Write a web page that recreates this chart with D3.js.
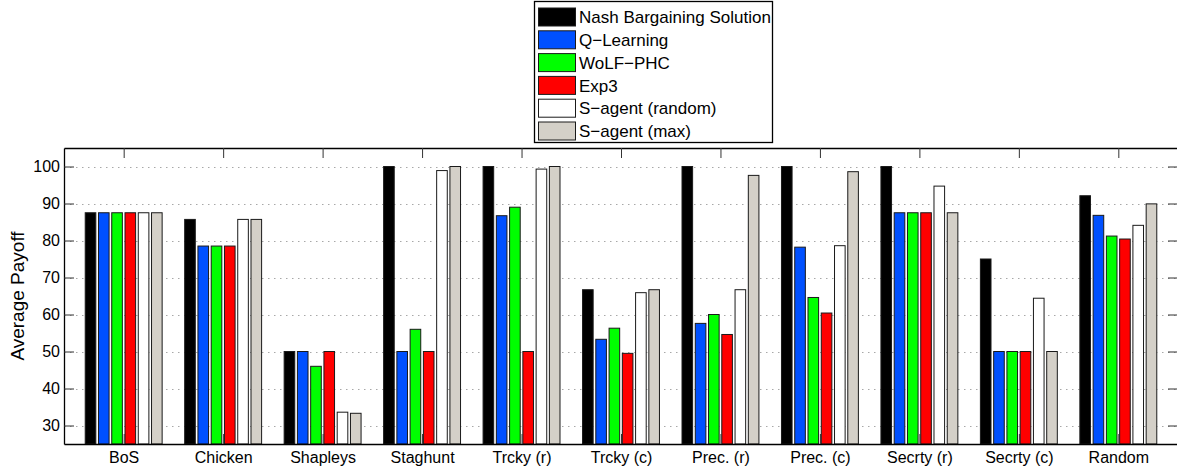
<!DOCTYPE html>
<html>
<head>
<meta charset="utf-8">
<script src="https://cdn.jsdelivr.net/npm/d3@7"></script>
<style>
  html, body { margin: 0; padding: 0; background: #fff; }
  svg { display: block; font-family: "Liberation Sans", Arial, Helvetica, sans-serif; }
</style>
</head>
<body>
<svg id="chart" width="1177" height="470"></svg>
<script>
// Game categories along the x axis
const categories = ["BoS", "Chicken", "Shapleys", "Staghunt", "Trcky (r)", "Trcky (c)",
                    "Prec. (r)", "Prec. (c)", "Secrty (r)", "Secrty (c)", "Random"];

// Series names (legend order)
const seriesNames = ["Nash Bargaining Solution", "Q\u2212Learning", "WoLF\u2212PHC", "Exp3",
                     "S\u2212agent (random)", "S\u2212agent (max)"];

// Average payoff per algorithm, one value per category
const nashValues    = [87.5, 85.7, 50.0, 100.0, 100.0, 66.7, 100.0, 100.0, 100.0, 75.0, 92.1];
const qlearnValues  = [87.5, 78.5, 50.0,  50.0,  86.7, 53.3,  57.6,  78.2,  87.5, 50.0, 86.8];
const wolfValues    = [87.5, 78.5, 46.0,  56.0,  89.0, 56.3,  60.0,  64.6,  87.5, 50.0, 81.2];
const exp3Values    = [87.5, 78.5, 50.0,  50.0,  50.0, 49.5,  54.6,  60.4,  87.5, 50.0, 80.4];
const sRandomValues = [87.5, 85.7, 33.6,  98.9,  99.3, 65.9,  66.7,  78.6,  94.7, 64.4, 84.1];
const sMaxValues    = [87.5, 85.7, 33.3, 100.0, 100.0, 66.7,  97.6,  98.6,  87.5, 50.0, 89.9];

// Y axis ticks
const yTicks = [30, 40, 50, 60, 70, 80, 90, 100];

const seriesValues = [nashValues, qlearnValues, wolfValues, exp3Values, sRandomValues, sMaxValues];
const seriesColors = ["#000000", "#0050ff", "#00ff00", "#ff0000", "#ffffff", "#d4d0c8"];

const svg = d3.select("#chart");
const plotLeft = 64, plotRight = 1178, plotTop = 148, plotBottom = 444;

// Groups sit at integer positions 1..n, with 0.6 of a group step of margin on each side
const x = d3.scaleLinear().domain([0.4, categories.length + 0.6]).range([plotLeft, plotRight]);
const y = d3.scaleLinear().domain([25, 105]).range([plotBottom, plotTop]);

const nSeries = seriesValues.length;
const groupWidth = 0.8;
const step = groupWidth / nSeries;
const barWidth = step * 0.8;

// Dotted horizontal grid
svg.append("g")
  .selectAll("line")
  .data(yTicks)
  .join("line")
  .attr("x1", plotLeft).attr("x2", plotRight)
  .attr("y1", d => Math.round(y(d)) + 0.5).attr("y2", d => Math.round(y(d)) + 0.5)
  .attr("stroke", "#a8a8a8")
  .attr("stroke-width", 1)
  .attr("stroke-dasharray", "1.5,4.5");

// Grouped bars
const table = [];
seriesValues.forEach((vals, s) => {
  vals.forEach((v, c) => table.push({ s, c, v }));
});

svg.append("g")
  .selectAll("rect")
  .data(table)
  .join("rect")
  .attr("x", d => x(d.c + 1 + (d.s - (nSeries - 1) / 2) * step - barWidth / 2))
  .attr("width", d => x(barWidth) - x(0))
  .attr("y", d => y(d.v))
  .attr("height", d => y(25) - y(d.v))
  .attr("fill", d => seriesColors[d.s])
  .attr("stroke", "#1a1a1a")
  .attr("stroke-width", 1);

// Axes: ticks point inward, drawn over the bars
const tickValuesX = categories.map((_, i) => i + 1);

const xAxis = svg.append("g")
  .attr("transform", `translate(0,${plotBottom})`)
  .call(d3.axisBottom(x).tickValues(tickValuesX).tickFormat(d => categories[d - 1])
        .tickSizeInner(-10).tickSizeOuter(0).tickPadding(8));

const xAxisTop = svg.append("g")
  .attr("transform", `translate(0,${plotTop})`)
  .call(d3.axisTop(x).tickValues(tickValuesX).tickFormat("")
        .tickSizeInner(-10).tickSizeOuter(0));

const yAxis = svg.append("g")
  .attr("transform", `translate(${plotLeft},0)`)
  .call(d3.axisLeft(y).tickValues(yTicks).tickSizeInner(-10).tickSizeOuter(0).tickPadding(4));

const yAxisRight = svg.append("g")
  .attr("transform", `translate(${plotRight},0)`)
  .call(d3.axisRight(y).tickValues(yTicks).tickFormat("").tickSizeInner(-10).tickSizeOuter(0));

[xAxis, xAxisTop, yAxis, yAxisRight].forEach(g => {
  g.select(".domain").attr("stroke", "#000").attr("stroke-width", 1.3);
  g.selectAll(".tick line").attr("stroke", "#333").attr("stroke-width", 1);
  g.selectAll("text").attr("fill", "#000").style("font-size", "16px")
    .style("font-family", "'Liberation Sans', Arial, sans-serif");
});

// Y axis label
svg.append("text")
  .attr("transform", `translate(24,${(plotTop + plotBottom) / 2}) rotate(-90)`)
  .attr("text-anchor", "middle")
  .style("font-size", "19px")
  .attr("fill", "#000")
  .text("Average Payoff");

// Legend
const legend = svg.append("g").attr("transform", "translate(534,1)");
legend.append("rect")
  .attr("x", 0.5).attr("y", 0.5).attr("width", 238).attr("height", 141)
  .attr("fill", "#fff").attr("stroke", "#000").attr("stroke-width", 1.3);

const rows = legend.selectAll("g.row")
  .data(seriesNames)
  .join("g")
  .attr("class", "row")
  .attr("transform", (d, i) => `translate(0,${16 + i * 22.8})`);

rows.append("rect")
  .attr("x", 4.5).attr("y", -9).attr("width", 37).attr("height", 18)
  .attr("fill", (d, i) => seriesColors[i])
  .attr("stroke", "#1a1a1a").attr("stroke-width", 1);

rows.append("text")
  .attr("x", 45).attr("y", 0).attr("dy", "0.36em")
  .style("font-size", "17px")
  .attr("fill", "#000")
  .text(d => d);
</script>
</body>
</html>
